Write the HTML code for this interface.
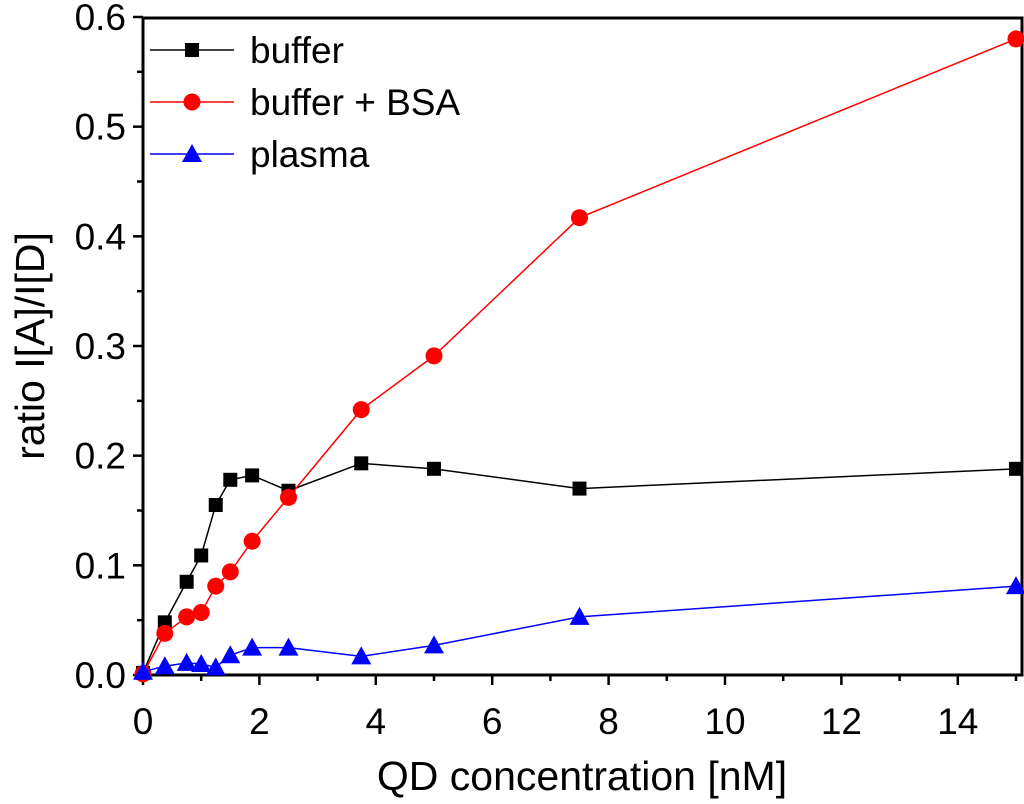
<!DOCTYPE html>
<html><head><meta charset="utf-8"><style>
body{margin:0;background:#fff;}
svg{display:block;font-family:"Liberation Sans",sans-serif;}
</style></head><body>
<svg id="chart" width="1024" height="804"></svg>
<script>
const xValues=[0,0.375,0.75,1,1.25,1.5,1.875,2.5,3.75,5,7.5,15];
const bufferValues=[0.002,0.048,0.085,0.109,0.155,0.178,0.182,0.168,0.193,0.188,0.170,0.188];
const bsaValues=[0.001,0.038,0.053,0.057,0.081,0.094,0.122,0.162,0.242,0.291,0.417,0.580];
const plasmaValues=[0.003,0.008,0.011,0.010,0.007,0.018,0.025,0.025,0.017,0.027,0.053,0.081];
const xTicks=[0,2,4,6,8,10,12,14];
const yTicks=[0,0.1,0.2,0.3,0.4,0.5,0.6];
const yTickLabels=["0.0","0.1","0.2","0.3","0.4","0.5","0.6"];
const seriesNames=["buffer","buffer + BSA","plasma"];

const L=143,B=675,T=18,R=1022;
const X=v=>L+v*(1016-L)/15;
const Y=v=>B-v*(B-17)/0.6;
const svg=document.getElementById('chart');
const NS='http://www.w3.org/2000/svg';
function mk(tag,attrs,parent){const e=document.createElementNS(NS,tag);for(const k in attrs)e.setAttribute(k,attrs[k]);(parent||svg).appendChild(e);return e;}

const frame=mk('rect',{x:L,y:T,width:R-L,height:B-T,fill:'none',stroke:'#000','stroke-width':3});



for(let v=0;v<=15;v++){
  const major=v%2===0;
  const t=mk('line',{x1:X(v),x2:X(v),y1:B,y2:B+(major?10:6),stroke:'#000','stroke-width':2.5});
  
  
}
xTicks.forEach(v=>{
  const t=mk('text',{x:X(v),y:734,'font-size':37,'text-anchor':'middle'});t.textContent=v;
  
  
});
for(let i=0;i<=12;i++){
  const v=i*0.05,major=i%2===0;
  const t=mk('line',{x1:L,x2:L-(major?10:6),y1:Y(v),y2:Y(v),stroke:'#000','stroke-width':2.5});
  
  
}
yTicks.forEach((v,i)=>{
  const t=mk('text',{x:126,y:Y(v)+13,'font-size':37,'text-anchor':'end'});t.textContent=yTickLabels[i];
  
  
});
const xt=mk('text',{x:582,y:790,'font-size':41,'text-anchor':'middle'});xt.textContent='QD concentration [nM]';


const yt=mk('text',{x:0,y:0,'font-size':41,'text-anchor':'middle',transform:'translate(44,346) rotate(-90)'});yt.textContent='ratio I[A]/I[D]';



function marker(g,type,x,y,color){
  if(type==='square')return mk('rect',{x:x-7,y:y-7,width:14,height:14,fill:color},g);
  if(type==='circle')return mk('circle',{cx:x,cy:y,r:8.5,fill:color},g);
  return mk('polygon',{points:`${x},${y-10} ${x-10},${y+8} ${x+10},${y+8}`,fill:color},g);
}
const series=[[bufferValues,'#000','square','buffer-series'],[bsaValues,'#ff0000','circle','bsa-series'],[plasmaValues,'#0000ff','triangle','plasma-series']];
series.forEach(([vals,color,type,name])=>{
  const g=mk('g',{});
  
  
  const p=mk('polyline',{points:vals.map((v,i)=>X(xValues[i])+','+Y(v)).join(' '),fill:'none',stroke:color,'stroke-width':1.5},g);
  
  
  vals.forEach((v,i)=>{
    const m=marker(g,type,X(xValues[i]),Y(v),color);
    
    
  });
});
const lg=mk('g',{});


series.forEach(([vals,color,type,name],i)=>{
  const y=50+i*52;
  const e=mk('g',{},lg);
  
  
  mk('line',{x1:150,x2:234,y1:y,y2:y,stroke:color,'stroke-width':1.5},e);
  marker(e,type,192,y,color);
  const t=mk('text',{x:250,y:y+13,'font-size':37},e);t.textContent=seriesNames[i];
});
</script>
</body></html>
